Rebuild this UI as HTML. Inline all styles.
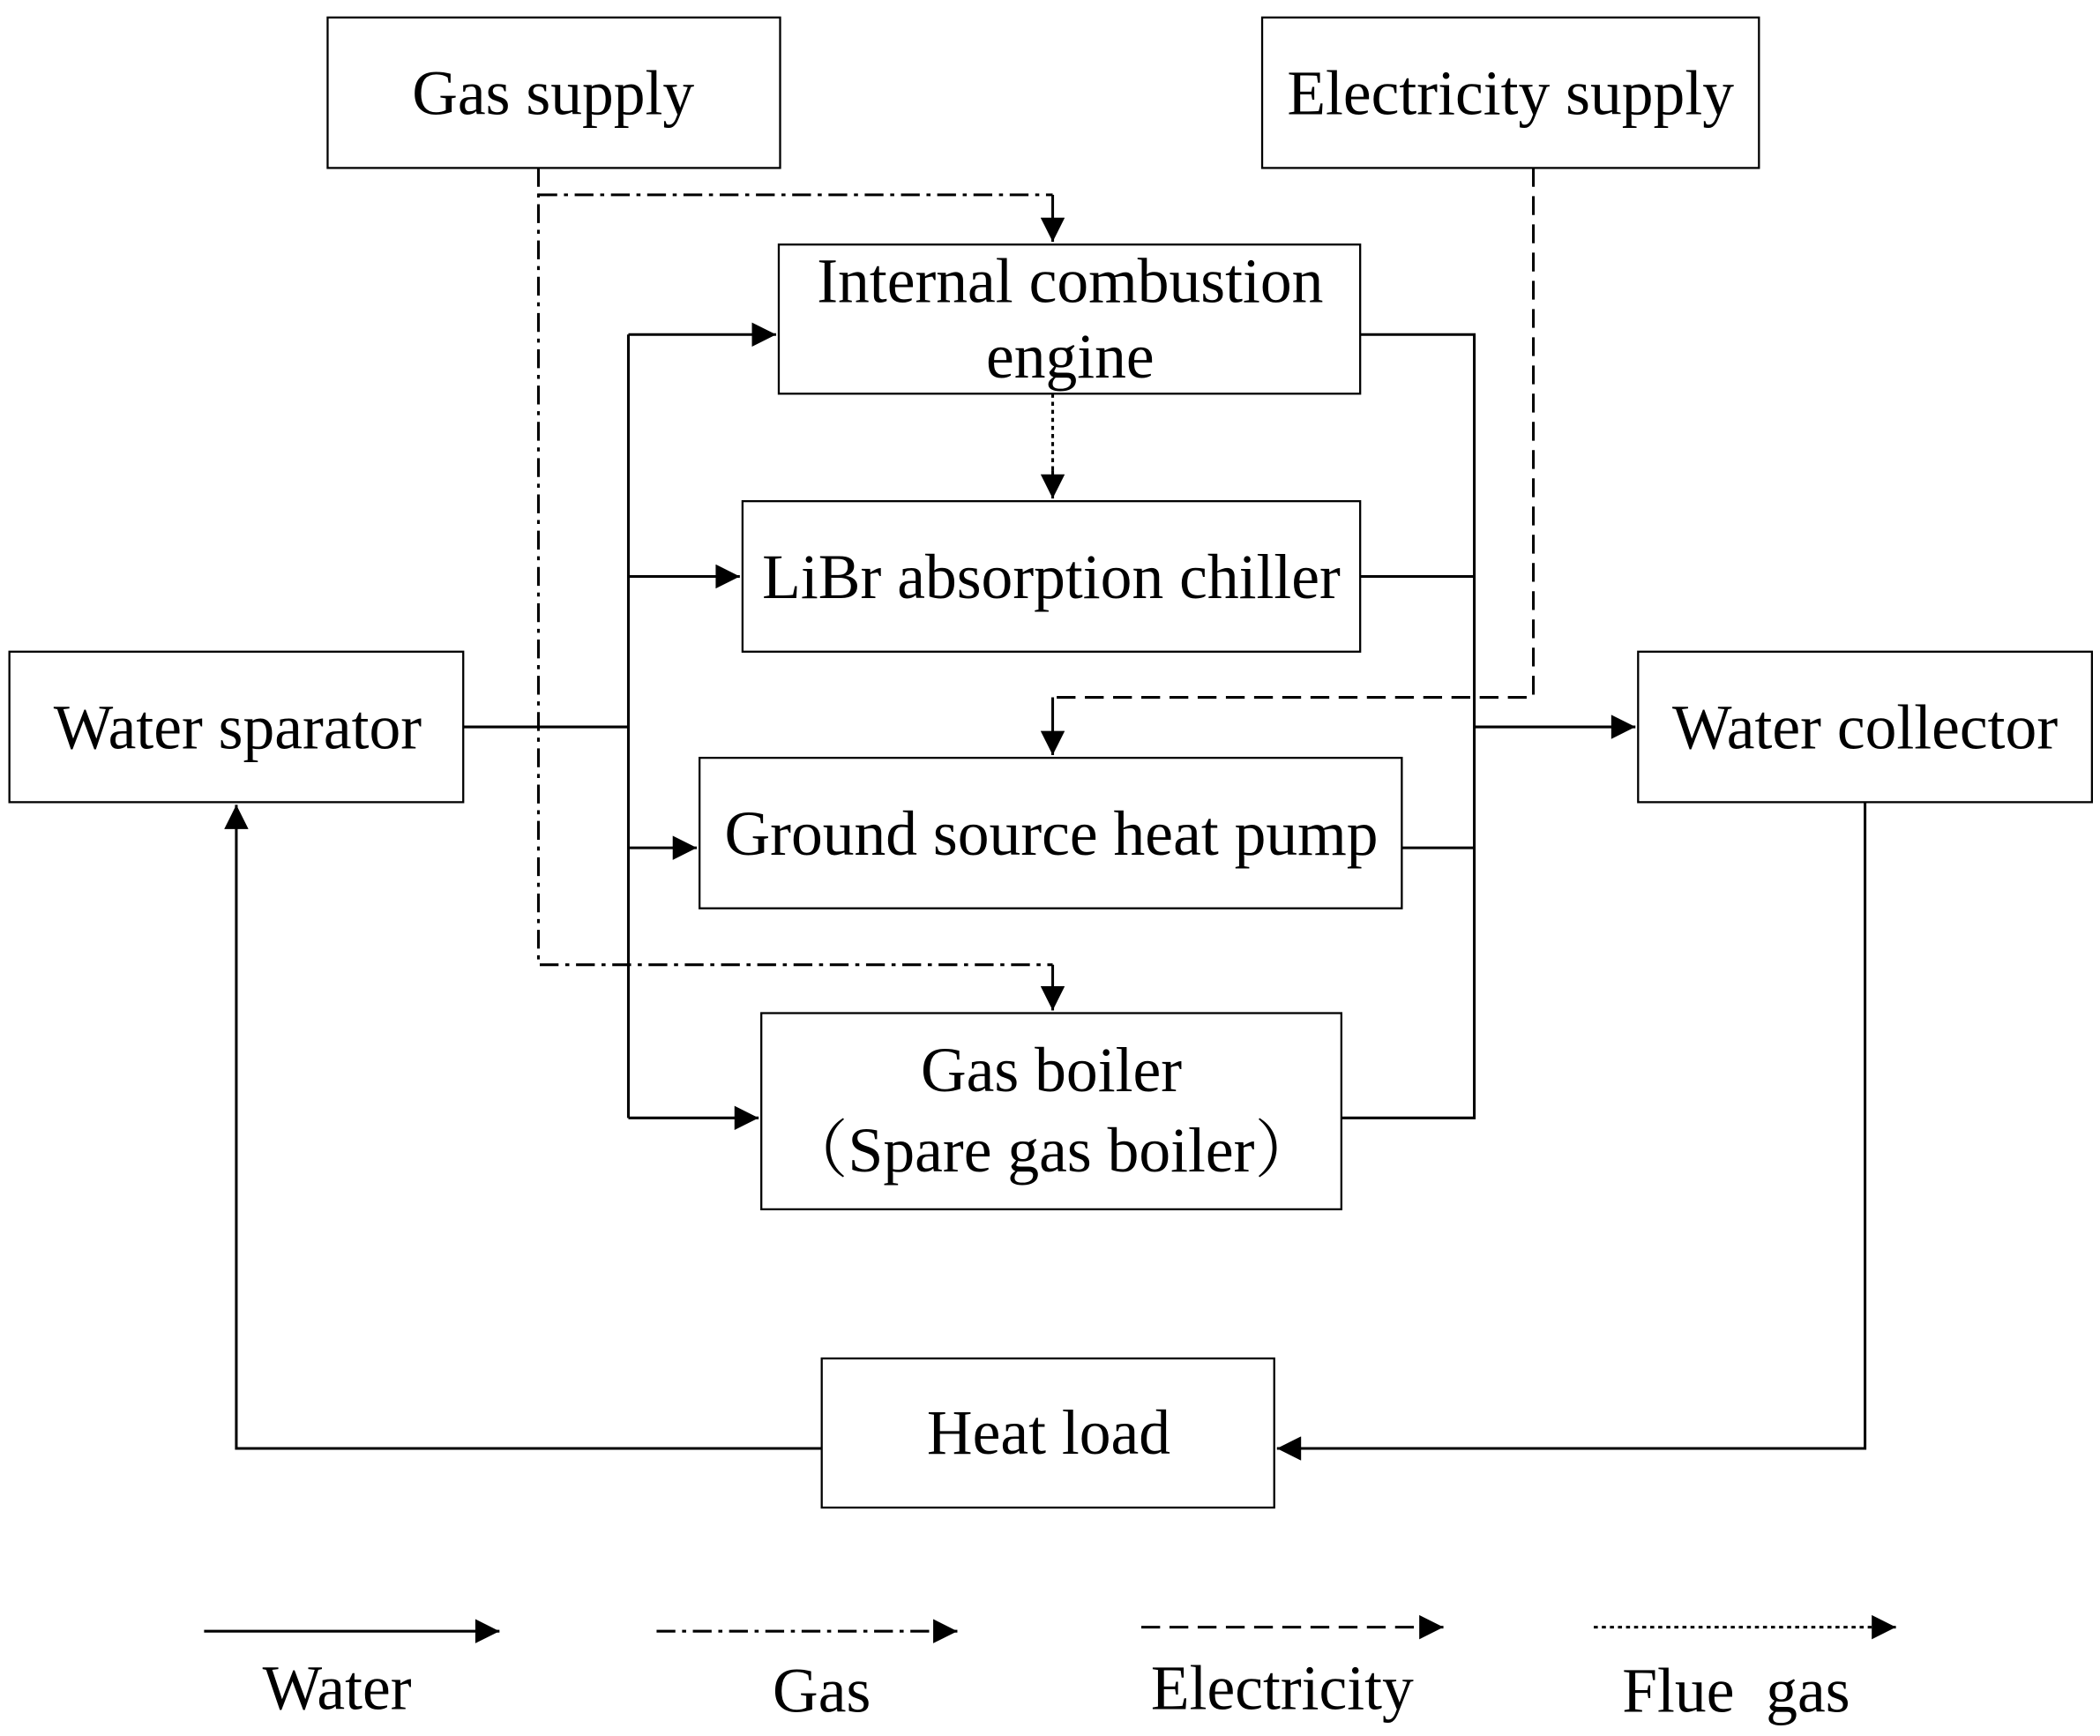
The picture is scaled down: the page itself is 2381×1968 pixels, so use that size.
<!DOCTYPE html>
<html><head><meta charset="utf-8"><style>html,body{margin:0;padding:0;background:#fff}svg{display:block}</style></head>
<body>
<svg width="2381" height="1968" viewBox="0 0 1564 1292" preserveAspectRatio="none" xmlns="http://www.w3.org/2000/svg">
<defs>
<marker id="a" viewBox="0 0 10 10" refX="10" refY="5" markerWidth="24" markerHeight="18" markerUnits="userSpaceOnUse" orient="auto"><path d="M0,0L10,5L0,10z" fill="#000"/></marker>
</defs>
<g fill="#fff" stroke="#000" stroke-width="1.5">
<rect x="244" y="13" width="337" height="112"/>
<rect x="940" y="13" width="370" height="112"/>
<rect x="580" y="182" width="433" height="111"/>
<rect x="553" y="373" width="460" height="112"/>
<rect x="7" y="485" width="338" height="112"/>
<rect x="1220" y="485" width="338" height="112"/>
<rect x="521" y="564" width="523" height="112"/>
<rect x="567" y="754" width="432" height="146"/>
<rect x="612" y="1011" width="337" height="111"/>
</g>
<g fill="none" stroke="#000" stroke-width="2">
<g stroke-dasharray="14,5,3,5">
<path d="M401,125V718H784"/>
<path d="M401,145H784"/>
<path d="M489,1214H700"/>
</g>
<path d="M784,145V180" marker-end="url(#a)"/>
<path d="M784,718V752" marker-end="url(#a)"/>
<path d="M700,1214H713" marker-end="url(#a)"/>
<g stroke-dasharray="14,7">
<path d="M1142,125V519H784"/>
<path d="M850,1211H1060"/>
</g>
<path d="M784,519V562" marker-end="url(#a)"/>
<path d="M1060,1211H1075" marker-end="url(#a)"/>
<path d="M784,293V360" stroke-dasharray="3,3"/>
<path d="M784,350V371" marker-end="url(#a)"/>
<path d="M1187,1211H1395" stroke-dasharray="3,3"/>
<path d="M1395,1211H1412" marker-end="url(#a)"/>
<path d="M345,541H468M468,249V832"/>
<path d="M468,249H578" marker-end="url(#a)"/>
<path d="M468,429H551" marker-end="url(#a)"/>
<path d="M468,631H519" marker-end="url(#a)"/>
<path d="M468,832H565" marker-end="url(#a)"/>
<path d="M1013,249H1098V832H999M1013,429H1098M1044,631H1098"/>
<path d="M1098,541H1218" marker-end="url(#a)"/>
<path d="M1389,597V1078H951" marker-end="url(#a)"/>
<path d="M612,1078H176V599" marker-end="url(#a)"/>
<path d="M152,1214H372" marker-end="url(#a)"/>
</g>
<g font-family="'Liberation Serif',serif" font-size="47" text-anchor="middle" fill="#000">
<text x="412" y="85">Gas supply</text>
<text x="1125" y="85">Electricity supply</text>
<text x="797" y="225">Internal combustion</text>
<text x="797" y="281">engine</text>
<text x="783" y="445">LiBr absorption chiller</text>
<text x="177" y="557">Water sparator</text>
<text x="1389" y="557">Water collector</text>
<text x="783" y="636">Ground source heat pump</text>
<text x="783" y="812">Gas boiler</text>
<text x="783" y="872" font-family="'Liberation Serif','Noto Serif CJK SC',serif">（Spare gas boiler）</text>
<text x="781" y="1082">Heat load</text>
<text x="251" y="1272">Water</text>
<text x="612" y="1274">Gas</text>
<text x="955" y="1272">Electricity</text>
<text x="1293" y="1274" xml:space="preserve">Flue  gas</text>
</g>
</svg>
</body></html>
